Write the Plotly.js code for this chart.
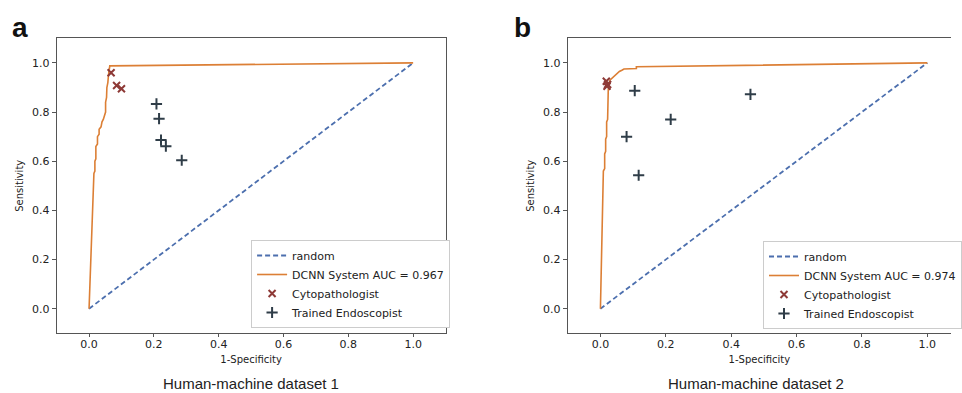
<!DOCTYPE html>
<html>
<head>
<meta charset="utf-8">
<script src="https://cdn.plot.ly/plotly-3.0.1.min.js"></script>
<style>html,body{margin:0;padding:0;background:#fff;}#chart{width:962px;height:393px;}</style>
</head>
<body>
<div id="chart"></div>
<script>
// ---- data ----
const randomX = [0, 1];
const randomY = [0, 1];

const rocA_fpr = [0, 0.015, 0.015, 0.018, 0.018, 0.021, 0.021, 0.026, 0.026, 0.031, 0.031, 0.037, 0.040, 0.044, 0.048, 0.051, 0.051, 0.054, 0.055, 0.058, 0.060, 0.062, 0.064, 1.0];
const rocA_tpr = [0, 0.52, 0.55, 0.56, 0.60, 0.61, 0.66, 0.67, 0.70, 0.71, 0.73, 0.74, 0.76, 0.77, 0.79, 0.80, 0.84, 0.86, 0.90, 0.92, 0.95, 0.97, 0.988, 1.0];
const cytoA_x = [0.068, 0.085, 0.100];
const cytoA_y = [0.960, 0.908, 0.895];
const endoA_x = [0.208, 0.216, 0.222, 0.237, 0.286];
const endoA_y = [0.833, 0.773, 0.686, 0.661, 0.604];

const rocB_fpr = [0, 0.009, 0.013, 0.013, 0.016, 0.016, 0.019, 0.019, 0.022, 0.022, 0.024, 0.024, 0.029, 0.033, 0.040, 0.045, 0.054, 0.058, 0.067, 0.072, 0.110, 0.110, 1.0];
const rocB_tpr = [0, 0.56, 0.57, 0.63, 0.64, 0.69, 0.70, 0.76, 0.77, 0.83, 0.84, 0.89, 0.93, 0.935, 0.944, 0.95, 0.958, 0.965, 0.971, 0.975, 0.977, 0.984, 1.0];
const cytoB_x = [0.018, 0.022, 0.020];
const cytoB_y = [0.925, 0.912, 0.905];
const endoB_x = [0.105, 0.459, 0.215, 0.080, 0.117];
const endoB_y = [0.887, 0.872, 0.770, 0.700, 0.543];

const aucA = "0.967";
const aucB = "0.974";
const tickVals = [0, 0.2, 0.4, 0.6, 0.8, 1.0];
const tickText = ["0.0", "0.2", "0.4", "0.6", "0.8", "1.0"];

// ---- styles ----
const BLUE = '#4c6fae', ORANGE = '#dc7f35', RED = '#8e3a37', DARK = '#2f3d48';
const FONT = 'DejaVu Sans, sans-serif';

function panelTraces(xa, ya, leg, roc_x, roc_y, auc, cx, cy, ex, ey) {
  return [
    {x: randomX, y: randomY, xaxis: xa, yaxis: ya, legend: leg, type: 'scatter', mode: 'lines',
     name: 'random', line: {color: BLUE, width: 1.8, dash: '5px,3px'}},
    {x: roc_x, y: roc_y, xaxis: xa, yaxis: ya, legend: leg, type: 'scatter', mode: 'lines',
     name: 'DCNN System AUC = ' + auc, line: {color: ORANGE, width: 1.6}},
    {x: cx, y: cy, xaxis: xa, yaxis: ya, legend: leg, type: 'scatter', mode: 'markers',
     name: 'Cytopathologist', marker: {symbol: 'x-thin-open', size: 7, color: RED, line: {color: RED, width: 2}}},
    {x: ex, y: ey, xaxis: xa, yaxis: ya, legend: leg, type: 'scatter', mode: 'markers',
     name: 'Trained Endoscopist', marker: {symbol: 'cross-thin-open', size: 8, color: DARK, line: {color: DARK, width: 2}}}
  ];
}

const data = [].concat(
  panelTraces('x', 'y', 'legend', rocA_fpr, rocA_tpr, aucA, cytoA_x, cytoA_y, endoA_x, endoA_y),
  panelTraces('x2', 'y2', 'legend2', rocB_fpr, rocB_tpr, aucB, cytoB_x, cytoB_y, endoB_x, endoB_y)
);

const W = 962, H = 393;
const yDom = [(H - 333.3) / H, (H - 38.3) / H];

function xAxis(domain, range) {
  return {domain: domain, range: range, showgrid: false, zeroline: false,
    showline: true, mirror: true, linecolor: '#555', linewidth: 1,
    ticks: 'outside', ticklen: 3, tickcolor: '#555', tickwidth: 1,
    ticklabelstandoff: -3,
    tickvals: tickVals, ticktext: tickText,
    tickfont: {family: FONT, size: 11, color: '#222'},
    title: {text: '1-Specificity', font: {family: FONT, size: 10, color: '#222'}, standoff: 6}};
}
function yAxis(anchor, mirror) {
  return {domain: yDom, range: [-0.1, 1.1], anchor: anchor, showgrid: false, zeroline: false,
    showline: true, mirror: mirror, linecolor: '#555', linewidth: 1,
    ticks: 'outside', ticklen: 4, tickcolor: '#555', tickwidth: 1,
    tickvals: tickVals, ticktext: tickText,
    tickfont: {family: FONT, size: 11, color: '#222'},
    title: {text: 'Sensitivity', font: {family: FONT, size: 10, color: '#222'}, standoff: 6}};
}

const xa2Left = 574.3, x0b = 607, unitB = 331;
const layout = {
  width: W, height: H,
  margin: {l: 0, r: 0, t: 0, b: 0},
  paper_bgcolor: '#fff', plot_bgcolor: '#fff',
  showlegend: true,
  xaxis: Object.assign(xAxis([57.3 / W, 450.7 / W], [-0.1, 1.1]), {anchor: 'y'}),
  yaxis: yAxis('x', true),
  xaxis2: Object.assign(xAxis([xa2Left / W, 1], [-0.1, (W - x0b) / unitB]), {anchor: 'y2'}),
  yaxis2: yAxis('x2', false),
  legend: {x: 254 / W, y: (H - 328) / H, xanchor: 'left', yanchor: 'bottom',
    bgcolor: '#fff', bordercolor: '#cccccc', borderwidth: 1,
    font: {family: FONT, size: 11, color: '#222'}, tracegroupgap: 0},
  legend2: {x: 772 / W, y: (H - 329) / H, xanchor: 'left', yanchor: 'bottom',
    bgcolor: '#fff', bordercolor: '#cccccc', borderwidth: 1,
    font: {family: FONT, size: 11, color: '#222'}, tracegroupgap: 0},
  annotations: [
    {text: '<b>a</b>', xref: 'paper', yref: 'paper', x: 10 / W, y: (H - 28) / H, xanchor: 'left', yanchor: 'middle',
     showarrow: false, font: {family: 'Liberation Sans, Arial, sans-serif', size: 28, color: '#111'}},
    {text: '<b>b</b>', xref: 'paper', yref: 'paper', x: 518 / W, y: (H - 28) / H, xanchor: 'left', yanchor: 'middle',
     showarrow: false, font: {family: 'Liberation Sans, Arial, sans-serif', size: 28, color: '#111'}},
    {text: 'Human-machine dataset 1', xref: 'paper', yref: 'paper', x: 254 / W, y: (H - 383) / H, xanchor: 'center', yanchor: 'middle',
     showarrow: false, font: {family: 'Liberation Sans, Arial, sans-serif', size: 15, color: '#222'}},
    {text: 'Human-machine dataset 2', xref: 'paper', yref: 'paper', x: 765 / W, y: (H - 383) / H, xanchor: 'center', yanchor: 'middle',
     showarrow: false, font: {family: 'Liberation Sans, Arial, sans-serif', size: 15, color: '#222'}}
  ]
};

Plotly.newPlot('chart', data, layout, {displayModeBar: false, staticPlot: true});
</script>
</body>
</html>
